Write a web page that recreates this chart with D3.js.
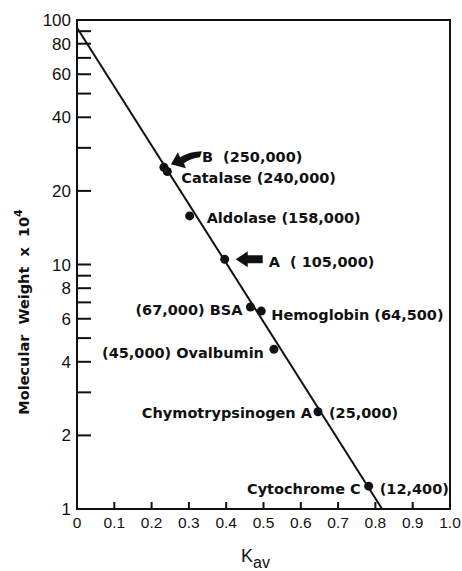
<!DOCTYPE html>
<html>
<head>
<meta charset="utf-8">
<script src="https://cdn.jsdelivr.net/npm/d3@7"></script>
<style>
  body { margin: 0; background: #fff; }
</style>
</head>
<body>
<div id="chart"></div>
<script>
// proteins: Kav vs molecular weight (x 10^4)
const names = ['B', 'Catalase', 'Aldolase', 'A', 'BSA', 'Hemoglobin', 'Ovalbumin', 'Chymotrypsinogen A', 'Cytochrome C'];
const kav = [0.233, 0.242, 0.302, 0.396, 0.465, 0.494, 0.528, 0.646, 0.782];
const mw = [25, 24, 15.8, 10.5, 6.7, 6.45, 4.5, 2.5, 1.24];
const mwLabels = ['(250,000)', '(240,000)', '(158,000)', '( 105,000)', '(67,000)', '(64,500)', '(45,000)', '(25,000)', '(12,400)'];

const fitKav = [0, 0.818];
const fitMw = [93, 1];

const xTicks = [0, 0.1, 0.2, 0.3, 0.4, 0.5, 0.6, 0.7, 0.8, 0.9, 1.0];
const xTickLabels = ['0', '0.1', '0.2', '0.3', '0.4', '0.5', '0.6', '0.7', '0.8', '0.9', '1.0'];
const yTicks = [2, 3, 4, 5, 6, 7, 8, 9, 10, 20, 30, 40, 50, 60, 70, 80, 90];
const yTickLabels = [1, 2, 4, 6, 8, 10, 20, 40, 60, 80, 100];

const width = 462, height = 571;
const mLeft = 77, mRight = 450, mTop = 20, mBottom = 509;
const plain = '"Liberation Sans", Arial, sans-serif';
const heavy = '"DejaVu Sans", sans-serif';

const svg = d3.select('#chart').append('svg')
  .attr('width', width)
  .attr('height', height)
  .attr('font-family', plain)
  .attr('fill', '#111');

const x = d3.scaleLinear().domain([0, 1]).range([mLeft, mRight]);
const y = d3.scaleLog().domain([1, 100]).range([mBottom, mTop]);

// frame
svg.append('rect')
  .attr('x', mLeft).attr('y', mTop)
  .attr('width', mRight - mLeft).attr('height', mBottom - mTop)
  .attr('fill', 'none').attr('stroke', '#111').attr('stroke-width', 2);

// y ticks (pointing inward)
svg.append('g').selectAll('line').data(yTicks).join('line')
  .attr('x1', mLeft).attr('x2', mLeft + 14)
  .attr('y1', d => y(d)).attr('y2', d => y(d))
  .attr('stroke', '#111').attr('stroke-width', 2);

svg.append('g').selectAll('text').data(yTickLabels).join('text')
  .attr('x', mLeft - 6)
  .attr('y', d => y(d) + 6)
  .attr('text-anchor', 'end')
  .attr('font-size', 17)
  .text(d => d);

// x ticks
svg.append('g').selectAll('line').data(xTicks.slice(1, -1)).join('line')
  .attr('x1', d => x(d)).attr('x2', d => x(d))
  .attr('y1', mBottom).attr('y2', mBottom - 7)
  .attr('stroke', '#111').attr('stroke-width', 2);

svg.append('g').selectAll('text').data(xTicks).join('text')
  .attr('x', d => x(d))
  .attr('y', mBottom + 19)
  .attr('text-anchor', 'middle')
  .attr('font-size', 15.5)
  .text((d, i) => xTickLabels[i]);

// axis titles
const xt = svg.append('text')
  .attr('x', 241).attr('y', 562)
  .attr('font-size', 18);
xt.append('tspan').text('K');
xt.append('tspan').attr('font-size', 16).attr('dy', 6).text('av');

const yt = svg.append('text')
  .attr('transform', 'translate(29,312) rotate(-90)')
  .attr('text-anchor', 'middle')
  .attr('font-family', heavy)
  .attr('font-size', 14.5)
  .attr('font-weight', 'bold')
  .attr('xml:space', 'preserve')
  .style('white-space', 'pre');
yt.append('tspan').text('Molecular  Weight  x  10');
yt.append('tspan').attr('font-size', 11).attr('dy', -7).text('4');

// fitted line
svg.append('line')
  .attr('x1', x(fitKav[0])).attr('y1', y(fitMw[0]))
  .attr('x2', x(fitKav[1])).attr('y2', y(fitMw[1]))
  .attr('stroke', '#111').attr('stroke-width', 2);

// points
svg.append('g').selectAll('circle').data(kav).join('circle')
  .attr('cx', d => x(d))
  .attr('cy', (d, i) => y(mw[i]))
  .attr('r', 4.5)
  .attr('fill', '#111');

// labels: [text, dx from point, dy, anchor]
const labelPos = [
  ['B', 38, -10, 'start'],
  ['Catalase', 14, 6, 'start'],
  ['Aldolase', 17, 2, 'start'],
  ['A', 44, 3, 'start'],
  ['BSA', -8, 3, 'end'],
  ['Hemoglobin', 10, 4, 'start'],
  ['Ovalbumin', -10, 4, 'end'],
  ['Chymotrypsinogen A', -6, 1, 'end'],
  ['Cytochrome C', -8, 3, 'end']
];

const lab = svg.append('g')
  .attr('font-family', heavy)
  .attr('font-size', 14.5)
  .attr('font-weight', 'bold');
names.forEach((n, i) => {
  const px = x(kav[i]), py = y(mw[i]);
  const [, dx, dy, anchor] = labelPos[i];
  let s;
  if (n === 'BSA' || n === 'Ovalbumin') s = mwLabels[i] + ' ' + n;
  else if (n === 'B' || n === 'A') s = n + '  ' + mwLabels[i];
  else if (n === 'Chymotrypsinogen A' || n === 'Cytochrome C') s = n;
  else s = n + ' ' + mwLabels[i];
  lab.append('text')
    .attr('x', px + dx).attr('y', py + dy + 5)
    .attr('text-anchor', anchor)
    .attr('xml:space', 'preserve')
    .style('white-space', 'pre')
    .text(s);
  if (n === 'Chymotrypsinogen A' || n === 'Cytochrome C') {
    lab.append('text')
      .attr('x', px + 11).attr('y', py + dy + 5)
      .text(mwLabels[i]);
  }
});

// arrow to A
const ax = x(kav[3]), ay = y(mw[3]);
svg.append('path')
  .attr('d', `M${ax + 11},${ay} L${ax + 23},${ay - 8} L${ax + 23},${ay - 4} L${ax + 38},${ay - 4} L${ax + 38},${ay + 4} L${ax + 23},${ay + 4} L${ax + 23},${ay + 8} Z`)
  .attr('fill', '#111');

// curved arrow to B
const bx = x(kav[0]), by = y(mw[0]);
svg.append('path')
  .attr('d', `M${bx + 7},${by - 3} L${bx + 14},${by - 15} L${bx + 16},${by - 10}` +
    ` Q${bx + 26},${by - 16} ${bx + 38},${by - 16} L${bx + 36},${by - 10}` +
    ` Q${bx + 27},${by - 9} ${bx + 20},${by - 4} L${bx + 22},${by + 1} Z`)
  .attr('fill', '#111');
</script>
</body>
</html>
